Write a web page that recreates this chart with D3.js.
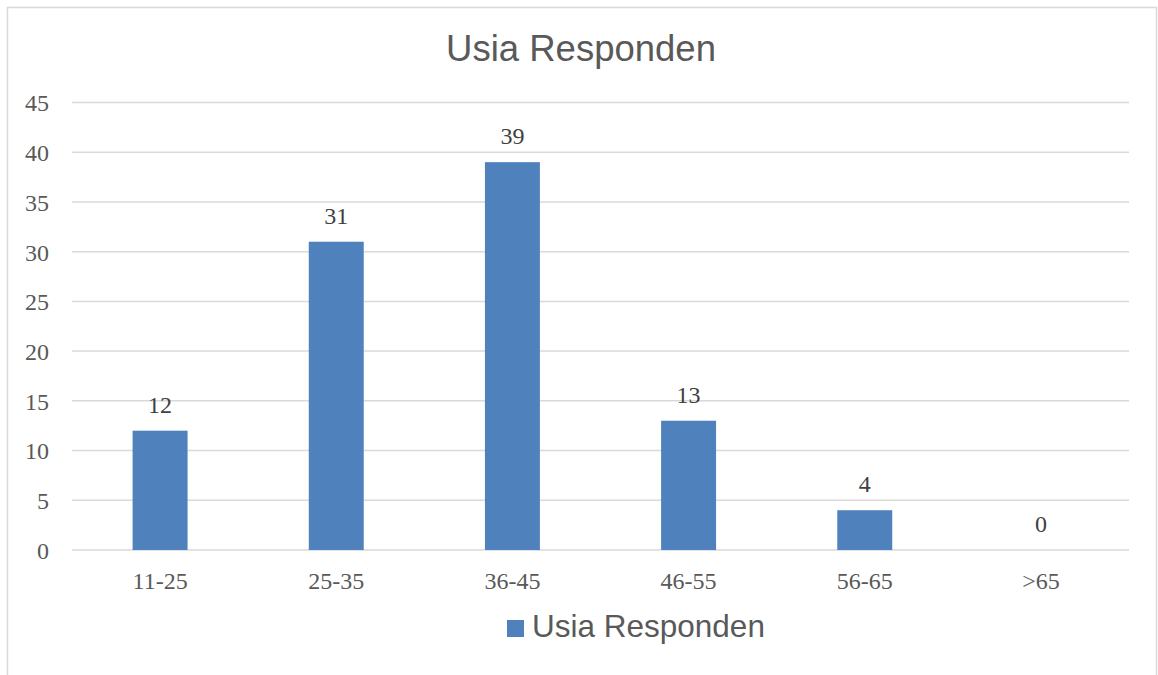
<!DOCTYPE html>
<html>
<head>
<meta charset="utf-8">
<script src="https://cdn.jsdelivr.net/npm/d3@7"></script>
<style>
  html, body { margin: 0; padding: 0; background: #fff; }
  svg { display: block; }
</style>
</head>
<body>
<svg id="chart" width="1158" height="675"></svg>
<script>
const categories = ["11-25", "25-35", "36-45", "46-55", "56-65", ">65"];
const values = [12, 31, 39, 13, 4, 0];
const yTicks = [0, 5, 10, 15, 20, 25, 30, 35, 40, 45];
const title = "Usia Responden";
const seriesName = "Usia Responden";

const W = 1158, H = 675;
const svg = d3.select("#chart");
const textColor = "#595959";
const gridColor = "#d9d9d9";
const barColor = "#4f81bd";
const serif = "'Liberation Serif', 'Times New Roman', serif";
const sans = "'Liberation Sans', Arial, sans-serif";

// chart border
svg.append("rect")
  .attr("x", 7.5).attr("y", 7.5)
  .attr("width", 1149).attr("height", 700)
  .attr("fill", "#fff")
  .attr("stroke", gridColor).attr("stroke-width", 1.5);

const plot = { left: 72, right: 1129, top: 102.5, bottom: 550 };

const x = d3.scaleBand().domain(categories).range([plot.left, plot.right]).padding(0);
const y = d3.scaleLinear().domain([0, 45]).range([plot.bottom, plot.top]);

// gridlines
svg.append("g").selectAll("line").data(yTicks).join("line")
  .attr("x1", plot.left).attr("x2", plot.right)
  .attr("y1", d => y(d)).attr("y2", d => y(d))
  .attr("stroke", gridColor).attr("stroke-width", 1.5);

// y axis labels
const yAxis = d3.axisLeft(y).tickValues(yTicks).tickSize(0).tickPadding(0);
const gy = svg.append("g").attr("transform", `translate(49,0)`).call(yAxis);
gy.select(".domain").remove();
gy.selectAll("text")
  .attr("font-family", serif).attr("font-size", 24)
  .attr("fill", textColor).attr("dy", "0.35em");

// x axis labels
const xAxis = d3.axisBottom(x).tickSize(0).tickPadding(0);
const gx = svg.append("g").attr("transform", `translate(0,${plot.bottom})`).call(xAxis);
gx.select(".domain").remove();
gx.selectAll("text")
  .attr("font-family", serif).attr("font-size", 24)
  .attr("fill", textColor).attr("dy", null).attr("y", 39);

// bars
const barW = x.bandwidth() * 0.312;
svg.append("g").selectAll("rect").data(values).join("rect")
  .attr("x", (d, i) => x(categories[i]) + x.bandwidth() / 2 - barW / 2)
  .attr("y", d => y(d))
  .attr("width", barW)
  .attr("height", d => y(0) - y(d))
  .attr("fill", barColor);

// data labels
svg.append("g").selectAll("text").data(values).join("text")
  .attr("x", (d, i) => x(categories[i]) + x.bandwidth() / 2)
  .attr("y", d => y(d) - 18)
  .attr("text-anchor", "middle")
  .attr("font-family", serif).attr("font-size", 24)
  .attr("fill", "#404040")
  .text(d => d);

// title
svg.append("text")
  .attr("x", 581).attr("y", 61)
  .attr("text-anchor", "middle")
  .attr("font-family", sans).attr("font-size", 36.5)
  .attr("fill", textColor)
  .text(title);

// legend
const lg = svg.append("g");
lg.append("rect").attr("x", 507).attr("y", 620).attr("width", 17).attr("height", 17).attr("fill", barColor);
lg.append("text").attr("x", 532).attr("y", 637)
  .attr("font-family", sans).attr("font-size", 31.5)
  .attr("fill", textColor).text(seriesName);
</script>
</body>
</html>
